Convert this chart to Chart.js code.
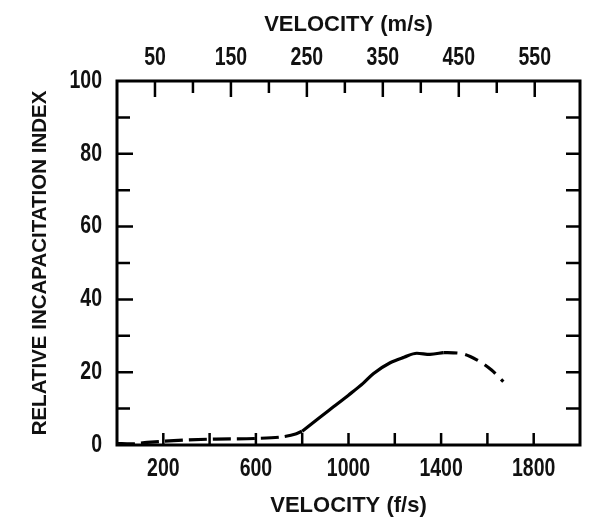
<!DOCTYPE html>
<html><head><meta charset="utf-8">
<script src="https://cdn.jsdelivr.net/npm/chart.js@4/dist/chart.umd.min.js"></script>
<style>html,body{margin:0;padding:0;background:#fff}#wrap{width:589px;height:521px}</style>
</head><body><div id="wrap"><canvas id="c" width="589" height="521"></canvas></div>
<script>
// Data (velocity in f/s, relative incapacitation index)
const lowVelocity  = [0, 60, 130, 245, 400, 600, 720, 775, 800];
const lowIndex     = [0.4, 0.3, 0.7, 1.2, 1.6, 1.8, 2.3, 3.1, 3.8];
const riseVelocity = [800, 870, 935, 1000, 1064, 1107, 1180, 1240, 1295, 1352, 1410];
const riseIndex    = [3.8, 7.3, 10.5, 13.7, 17.0, 19.6, 22.6, 24.1, 25.2, 24.9, 25.4];
const fallVelocity = [1410, 1482, 1554, 1618, 1669];
const fallIndex    = [25.4, 25.2, 23.4, 20.6, 17.4];

// Axes
const xMin = 0, xMax = 2000;              // f/s
const ftToM = 0.3048;
const bottomTickValues = [200, 400, 600, 800, 1000, 1200, 1400, 1600, 1800];
const bottomLabelValues = [200, 600, 1000, 1400, 1800];
const topTickValues = [50, 100, 150, 200, 250, 300, 350, 400, 450, 500, 550];
const topLabelValues = [50, 150, 250, 350, 450, 550];
const yTickValues = [10, 20, 30, 40, 50, 60, 70, 80, 90];
const yLabelValues = [0, 20, 40, 60, 80, 100];

const TICK_FONT = {family: '"Liberation Sans", Arial, sans-serif', size: 25, weight: 'bold'};
const TITLE_FONT = {family: '"Liberation Sans", Arial, sans-serif', size: 22, weight: 'bold'};

const pts = (xs, ys) => xs.map((x, i) => ({x, y: ys[i]}));

// narrow (condensed) rendering of the tick numerals
const canvas = document.getElementById('c');
const ctx2d = canvas.getContext('2d');
const rawFillText = ctx2d.fillText.bind(ctx2d);
ctx2d.fillText = function (text, x, y, maxWidth) {
  if (this.font.indexOf('25px') !== -1) {
    this.save();
    this.translate(x, y);
    this.scale(0.78, 1);
    rawFillText(text, 0, 0);
    this.restore();
  } else if (maxWidth !== undefined) {
    rawFillText(text, x, y, maxWidth);
  } else {
    rawFillText(text, x, y);
  }
};

const frameTicks = {
  id: 'frameTicks',
  afterDatasetsDraw(chart) {
    const {ctx, chartArea: a, scales} = chart;
    ctx.save();
    ctx.strokeStyle = '#000';
    ctx.lineCap = 'butt';
    ctx.lineWidth = 2.5;
    ctx.beginPath();
    bottomTickValues.forEach(v => {
      const px = scales.x.getPixelForValue(v);
      ctx.moveTo(px, a.bottom); ctx.lineTo(px, a.bottom - 12);
    });
    topTickValues.forEach(v => {
      const px = scales.xTop.getPixelForValue(v);
      const len = topLabelValues.includes(v) ? 16 : 12;
      ctx.moveTo(px, a.top); ctx.lineTo(px, a.top + len);
    });
    yTickValues.forEach(v => {
      const py = scales.y.getPixelForValue(v);
      const len = yLabelValues.includes(v) ? 16 : 13;
      ctx.moveTo(a.left, py); ctx.lineTo(a.left + len, py);
      ctx.moveTo(a.right, py); ctx.lineTo(a.right - 14, py);
    });
    ctx.stroke();
    ctx.lineWidth = 3;
    ctx.strokeRect(a.left, a.top, a.width, a.height);
    ctx.restore();
  }
};

const lineStyle = {borderColor: '#000', borderWidth: 3.2, pointRadius: 0, fill: false, cubicInterpolationMode: 'monotone'};
const noGrid = {display: false, drawTicks: false};

new Chart(canvas, {
  type: 'line',
  data: {
    datasets: [
      Object.assign({label: 'low', data: pts(lowVelocity, lowIndex), borderDash: [18, 6]}, lineStyle),
      Object.assign({label: 'rise', data: pts(riseVelocity, riseIndex)}, lineStyle),
      Object.assign({label: 'fall', data: pts(fallVelocity, fallIndex), borderDash: [14, 8]}, lineStyle)
    ]
  },
  options: {
    responsive: false,
    devicePixelRatio: 1,
    animation: false,
    layout: {padding: {left: 0, right: 8, top: 0, bottom: 0}},
    plugins: {legend: {display: false}, tooltip: {enabled: false}},
    scales: {
      x: {
        type: 'linear', position: 'bottom', min: xMin, max: xMax,
        grid: noGrid, border: {display: false},
        ticks: {stepSize: 200, autoSkip: false, maxRotation: 0, padding: 9, color: '#111', font: TICK_FONT,
          callback: v => bottomLabelValues.includes(v) ? String(v) : ''},
        title: {display: true, text: 'VELOCITY (f/s)', color: '#111', font: TITLE_FONT, padding: {top: 0, bottom: 2}},
        afterFit: s => { s.height = 76; }
      },
      xTop: {
        type: 'linear', position: 'top', min: xMin * ftToM, max: xMax * ftToM,
        grid: noGrid, border: {display: false},
        ticks: {stepSize: 50, autoSkip: false, maxRotation: 0, padding: 8, color: '#111', font: TICK_FONT,
          callback: v => topLabelValues.includes(v) ? String(v) : ''},
        title: {display: true, text: 'VELOCITY (m/s)', color: '#111', font: TITLE_FONT, padding: {top: 12, bottom: 0}},
        afterFit: s => { s.height = 81; }
      },
      y: {
        type: 'linear', position: 'left', min: 0, max: 100,
        grid: noGrid, border: {display: false},
        ticks: {stepSize: 10, autoSkip: false, padding: 15, color: '#111', font: TICK_FONT,
          callback: v => yLabelValues.includes(v) ? String(v) : ''},
        title: {display: true, text: 'RELATIVE INCAPACITATION INDEX', color: '#111',
          font: {family: TITLE_FONT.family, size: 20.5, weight: 'bold'}, padding: {top: 28, bottom: 0}},
        afterFit: s => { s.width = 117; }
      }
    }
  },
  plugins: [frameTicks]
});
</script>
</body></html>
